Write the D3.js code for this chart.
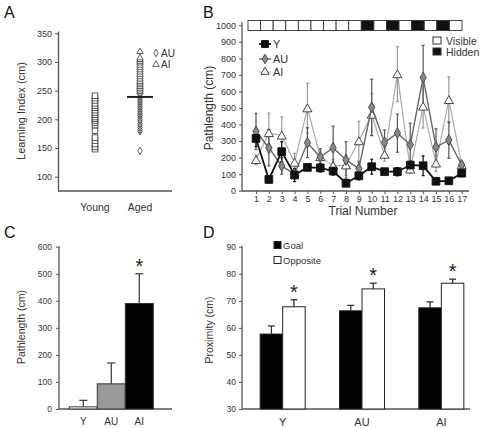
<!DOCTYPE html>
<html><head><meta charset="utf-8">
<script src="https://cdn.jsdelivr.net/npm/d3@7/dist/d3.min.js"></script>
<style>body{margin:0;background:#fff} svg{font-family:"Liberation Sans",Arial,sans-serif;display:block}</style>
</head><body><svg id="c" width="484" height="428"></svg>
<script>
// ---------- Panel A data ----------
const youngLI = [148, 152, 157, 163, 168, 180, 190, 194, 198, 201, 204, 208, 212, 216, 220, 224, 228, 233, 237, 241];
const auLI = [145, 179, 182, 186, 190, 193, 197, 200, 204, 207, 210, 213, 216, 219, 222, 225, 228, 231, 234, 237, 240, 243, 246];
const aiLI = [248, 251, 254, 257, 260, 263, 266, 270, 274, 278, 282, 286, 290, 294, 298, 301, 304, 307, 318];
const agedMean = 239;
const groupsA = ["Young", "Aged"];
const ticksA = [100, 150, 200, 250, 300, 350];

// ---------- Panel B data ----------
const trials = [1, 2, 3, 4, 5, 6, 7, 8, 9, 10, 11, 12, 13, 14, 15, 16, 17];
const blockType = ["V","V","V","V","V","V","V","V","V","H","V","H","V","H","V","H","V"];
const pathY  = [316, 68, 236, 95, 141, 138, 119, 45, 90, 145, 115, 115, 155, 151, 57, 60, 106];
const errY   = [50, 20, 60, 40, 20, 25, 25, 20, 25, 45, 15, 25, 25, 60, 15, 15, 20];
const pathAU = [358, 260, 150, 100, 290, 204, 260, 186, 134, 504, 292, 348, 278, 684, 264, 306, 156];
const errAU  = [110, 110, 50, 30, 90, 50, 130, 110, 40, 170, 75, 115, 130, 195, 110, 110, 15];
const pathAI = [186, 349, 334, 170, 499, 204, 150, 154, 300, 460, 218, 705, 129, 509, 165, 549, 155];
const errAI  = [30, 120, 113, 56, 150, 40, 40, 60, 120, 128, 40, 166, 25, 130, 50, 140, 20];
const ticksB = [0, 100, 200, 300, 400, 500, 600, 700, 800, 900, 1000];

// ---------- Panel C data ----------
const groupsC = ["Y", "AU", "AI"];
const pathC = [8, 93, 390];
const errC = [24, 77, 110];
const ticksC = [0, 100, 200, 300, 400, 500, 600];

// ---------- Panel D data ----------
const groupsD = ["Y", "AU", "AI"];
const goalD = [57.7, 66.3, 67.4];
const goalErr = [3.0, 2.0, 2.2];
const oppD = [67.8, 74.4, 76.5];
const oppErr = [2.6, 2.1, 1.5];
const ticksD = [30, 40, 50, 60, 70, 80, 90];

const svg = d3.select("#c");
const AX = "#555", TX = "#333";
const fmt = d3.format("d");

function styleAxis(g, fs) {
  g.select(".domain").attr("stroke", AX).attr("stroke-width", 1.3);
  g.selectAll(".tick line").attr("stroke", AX).attr("stroke-width", 1);
  g.selectAll(".tick text").attr("fill", TX).style("font-size", fs + "px").style("font-family", "Liberation Sans, Arial, sans-serif");
}
function letter(t, x, y) {
  svg.append("text").attr("x", x).attr("y", y).text(t).style("font-size", "16px").attr("fill", "#111");
}
function vtitle(t, x, y, fs) {
  svg.append("text").attr("transform", `translate(${x},${y}) rotate(-90)`).attr("text-anchor", "middle")
    .style("font-size", fs + "px").attr("fill", TX).text(t);
}
function star(x, capY) {
  svg.append("text").attr("x", x).attr("y", capY - 1).attr("text-anchor", "middle")
    .style("font-size", "20px").attr("fill", "#222").text("*");
}

// ================= Panel A =================
letter("A", 4, 18);
{
  const y = d3.scaleLinear().domain([75, 354]).range([191, 31]);
  const x = d3.scalePoint().domain(groupsA).range([95, 140]);
  const g = svg.append("g").attr("transform", "translate(58,0)")
    .call(d3.axisLeft(y).tickValues(ticksA).tickSize(3).tickSizeOuter(0).tickPadding(3).tickFormat(fmt));
  styleAxis(g, 9);
  svg.append("line").attr("x1", 58).attr("x2", 172).attr("y1", 191).attr("y2", 191).attr("stroke", AX).attr("stroke-width", 1.3);
  vtitle("Learning Index (cm)", 25, 111, 11);
  svg.selectAll(".lblA").data(groupsA).join("text").attr("x", d => x(d)).attr("y", 211)
    .attr("text-anchor", "middle").style("font-size", "10.5px").attr("fill", TX).text(d => d);
  svg.selectAll(".sqA").data(youngLI).join("rect").attr("x", x("Young") - 2.8).attr("y", d => y(d) - 2.8)
    .attr("width", 5.6).attr("height", 5.6).attr("fill", "#fff").attr("stroke", "#333").attr("stroke-width", 0.8);
  const dia = d3.symbol().type(d3.symbolDiamond).size(16);
  const tri = d3.symbol().type(d3.symbolTriangle).size(18);
  svg.selectAll(".dA").data(auLI).join("path").attr("d", dia)
    .attr("transform", d => `translate(${x("Aged")},${y(d)})`).attr("fill", "#fff").attr("stroke", "#333").attr("stroke-width", 0.8);
  svg.selectAll(".tA").data(aiLI).join("path").attr("d", tri)
    .attr("transform", d => `translate(${x("Aged")},${y(d)})`).attr("fill", "#fff").attr("stroke", "#333").attr("stroke-width", 0.8);
  svg.append("line").attr("x1", x("Aged") - 13).attr("x2", x("Aged") + 13).attr("y1", y(agedMean)).attr("y2", y(agedMean))
    .attr("stroke", "#222").attr("stroke-width", 2);
  // legend
  svg.append("path").attr("d", dia).attr("transform", "translate(156,53)").attr("fill", "#fff").attr("stroke", "#333").attr("stroke-width", 0.8);
  svg.append("text").attr("x", 161).attr("y", 57).style("font-size", "10px").attr("fill", TX).text("AU");
  svg.append("path").attr("d", tri).attr("transform", "translate(156,64.5)").attr("fill", "#fff").attr("stroke", "#333").attr("stroke-width", 0.8);
  svg.append("text").attr("x", 161).attr("y", 68).style("font-size", "10px").attr("fill", TX).text("AI");
}

// ================= Panel B =================
letter("B", 203, 18);
{
  const y = d3.scaleLinear().domain([0, 1000]).range([190.7, 25.3]);
  const x = d3.scaleLinear().domain([1, 17]).range([256, 461.7]);
  const g = svg.append("g").attr("transform", "translate(242,0)")
    .call(d3.axisLeft(y).tickValues(ticksB).tickSize(3).tickSizeOuter(0).tickPadding(3).tickFormat(fmt));
  styleAxis(g, 9);
  g.select(".domain").attr("d", "M0,22V191");
  const gx = svg.append("g").attr("transform", "translate(0,191)")
    .call(d3.axisBottom(x).tickValues(trials).tickSize(3).tickPadding(2).tickFormat(fmt));
  styleAxis(gx, 9);
  gx.select(".domain").attr("d", "M242,0H469");
  vtitle("Pathlength (cm)", 213, 108, 12);
  svg.append("text").attr("x", 363).attr("y", 215).attr("text-anchor", "middle").style("font-size", "12px").attr("fill", TX).text("Trial Number");

  // block strip
  const xb = d3.scaleBand().domain(trials).range([248, 462]);
  svg.selectAll(".blk").data(trials).join("rect").attr("x", d => xb(d)).attr("y", 20.5).attr("width", xb.bandwidth()).attr("height", 10)
    .attr("fill", (d, i) => blockType[i] === "H" ? "#111" : "#fff").attr("stroke", "#333").attr("stroke-width", 0.9);

  const series = [
    {name: "AI", v: pathAI, e: errAI, line: "#aaa", lw: 1.2, ebar: "#999", fill: "#fff", stroke: "#333", sym: d3.symbolTriangle, size: 36},
    {name: "AU", v: pathAU, e: errAU, line: "#666", lw: 1.4, ebar: "#555", fill: "#888", stroke: "#444", sym: d3.symbolDiamond, size: 34},
    {name: "Y", v: pathY, e: errY, line: "#111", lw: 1.8, ebar: "#111", fill: "#111", stroke: "#111", sym: d3.symbolSquare, size: 60}
  ];
  for (const s of series) {
    const gs = svg.append("g");
    gs.selectAll("line.e").data(trials).join("line").attr("x1", d => x(d)).attr("x2", d => x(d))
      .attr("y1", (d, i) => y(s.v[i] + s.e[i])).attr("y2", (d, i) => y(Math.max(0, s.v[i] - s.e[i])))
      .attr("stroke", s.ebar).attr("stroke-width", 1.2);
    gs.selectAll("line.c").data(trials).join("line").attr("x1", d => x(d) - 1.5).attr("x2", d => x(d) + 1.5)
      .attr("y1", (d, i) => y(s.v[i] + s.e[i])).attr("y2", (d, i) => y(s.v[i] + s.e[i]))
      .attr("stroke", s.ebar).attr("stroke-width", 1.2);
    gs.selectAll("line.c2").data(trials).join("line").attr("x1", d => x(d) - 1.5).attr("x2", d => x(d) + 1.5)
      .attr("y1", (d, i) => y(Math.max(0, s.v[i] - s.e[i]))).attr("y2", (d, i) => y(Math.max(0, s.v[i] - s.e[i])))
      .attr("stroke", s.ebar).attr("stroke-width", 1.2);
  }
  for (const s of series) {
    const gs = svg.append("g");
    gs.append("path").datum(trials).attr("fill", "none").attr("stroke", s.line).attr("stroke-width", s.lw)
      .attr("d", d3.line().x(d => x(d)).y((d, i) => y(s.v[i])));
    gs.selectAll("path.m").data(trials).join("path").attr("class", "m").attr("d", d3.symbol().type(s.sym).size(s.size))
      .attr("transform", (d, i) => `translate(${x(d)},${y(s.v[i]) + (s.sym === d3.symbolTriangle ? 1 : 0)})`)
      .attr("fill", s.fill).attr("stroke", s.stroke).attr("stroke-width", 0.9);
  }
  // legend series
  const leg = [["Y", 44], ["AU", 59], ["AI", 72]];
  leg.forEach(([n, yy]) => {
    const s = series.find(q => q.name === n);
    svg.append("line").attr("x1", 259).attr("x2", 271).attr("y1", yy).attr("y2", yy).attr("stroke", s.line).attr("stroke-width", s.lw);
    svg.append("path").attr("d", d3.symbol().type(s.sym).size(s.size * 0.8)).attr("transform", `translate(265,${yy})`)
      .attr("fill", s.fill).attr("stroke", s.stroke).attr("stroke-width", 0.9);
    svg.append("text").attr("x", 273).attr("y", yy + 4).style("font-size", "11px").attr("fill", TX).text(n);
  });
  svg.append("rect").attr("x", 433).attr("y", 37).attr("width", 8).attr("height", 7).attr("fill", "#fff").attr("stroke", "#333");
  svg.append("text").attr("x", 446).attr("y", 44.5).style("font-size", "10.5px").attr("fill", TX).text("Visible");
  svg.append("rect").attr("x", 433).attr("y", 48).attr("width", 8).attr("height", 7).attr("fill", "#111").attr("stroke", "#333");
  svg.append("text").attr("x", 446).attr("y", 55.5).style("font-size", "10.5px").attr("fill", TX).text("Hidden");
}

// ================= Panel C =================
letter("C", 4, 238);
{
  const y = d3.scaleLinear().domain([0, 600]).range([409, 246.7]);
  const x = d3.scaleBand().domain(groupsC).range([69.3, 153.3]).padding(0);
  const g = svg.append("g").attr("transform", "translate(59,0)")
    .call(d3.axisLeft(y).tickValues(ticksC).tickSize(3).tickSizeOuter(0).tickPadding(4).tickFormat(fmt));
  styleAxis(g, 8.5);
  g.select(".domain").attr("d", "M0,246V409");
  svg.append("line").attr("x1", 59).attr("x2", 172).attr("y1", 409).attr("y2", 409).attr("stroke", AX).attr("stroke-width", 1.3);
  vtitle("Pathlength (cm)", 25, 327, 10.5);
  const fills = ["#fff", "#999", "#000"];
  groupsC.forEach((gname, i) => {
    const cx = x(gname) + x.bandwidth() / 2;
    svg.append("line").attr("x1", cx).attr("x2", cx).attr("y1", y(pathC[i])).attr("y2", y(pathC[i] + errC[i])).attr("stroke", "#444").attr("stroke-width", 1.3);
    svg.append("line").attr("x1", cx - 4).attr("x2", cx + 4).attr("y1", y(pathC[i] + errC[i])).attr("y2", y(pathC[i] + errC[i])).attr("stroke", "#444").attr("stroke-width", 1.3);
    svg.append("rect").attr("x", x(gname)).attr("y", y(pathC[i])).attr("width", x.bandwidth()).attr("height", y(0) - y(pathC[i]))
      .attr("fill", fills[i]).attr("stroke", "#333").attr("stroke-width", 1);
    svg.append("text").attr("x", cx).attr("y", 425).attr("text-anchor", "middle").style("font-size", "10px").attr("fill", TX).text(gname);
  });
  const iAI = groupsC.indexOf("AI");
  star(x("AI") + x.bandwidth() / 2, y(pathC[iAI] + errC[iAI]));
}

// ================= Panel D =================
letter("D", 203, 238);
{
  const y = d3.scaleLinear().domain([30, 90]).range([409, 246.7]);
  const x0 = d3.scaleBand().domain(groupsD).range([243, 481]);
  const bw = 22.5;
  const g = svg.append("g").attr("transform", "translate(242,0)")
    .call(d3.axisLeft(y).tickValues(ticksD).tickSize(3).tickSizeOuter(0).tickPadding(3).tickFormat(fmt));
  styleAxis(g, 8.5);
  g.select(".domain").attr("d", "M0,246V409");
  svg.append("line").attr("x1", 242).attr("x2", 470).attr("y1", 409).attr("y2", 409).attr("stroke", AX).attr("stroke-width", 1.3);
  vtitle("Proximity (cm)", 213, 330, 10.5);
  groupsD.forEach((gname, i) => {
    const c = x0(gname) + x0.bandwidth() / 2;
    const bars = [[c - bw, goalD[i], goalErr[i], "#000"], [c, oppD[i], oppErr[i], "#fff"]];
    bars.forEach(([bx, v, e, f]) => {
      const mx = bx + bw / 2;
      svg.append("line").attr("x1", mx).attr("x2", mx).attr("y1", y(v)).attr("y2", y(v + e)).attr("stroke", "#333").attr("stroke-width", 1.3);
      svg.append("line").attr("x1", mx - 3.5).attr("x2", mx + 3.5).attr("y1", y(v + e)).attr("y2", y(v + e)).attr("stroke", "#333").attr("stroke-width", 1.3);
      svg.append("rect").attr("x", bx).attr("y", y(v)).attr("width", bw).attr("height", y(30) - y(v))
        .attr("fill", f).attr("stroke", "#222").attr("stroke-width", 1);
    });
    star(c + bw / 2, y(oppD[i] + oppErr[i]));
    svg.append("text").attr("x", c).attr("y", 426).attr("text-anchor", "middle").style("font-size", "11px").attr("fill", TX).text(gname);
  });
  svg.append("rect").attr("x", 274).attr("y", 241.5).attr("width", 7).attr("height", 7).attr("fill", "#000").attr("stroke", "#222");
  svg.append("text").attr("x", 283).attr("y", 248.5).style("font-size", "9.5px").attr("fill", TX).text("Goal");
  svg.append("rect").attr("x", 274).attr("y", 256.5).attr("width", 7).attr("height", 7).attr("fill", "#fff").attr("stroke", "#222");
  svg.append("text").attr("x", 283).attr("y", 263.5).style("font-size", "9.5px").attr("fill", TX).text("Opposite");
}
</script></body></html>
